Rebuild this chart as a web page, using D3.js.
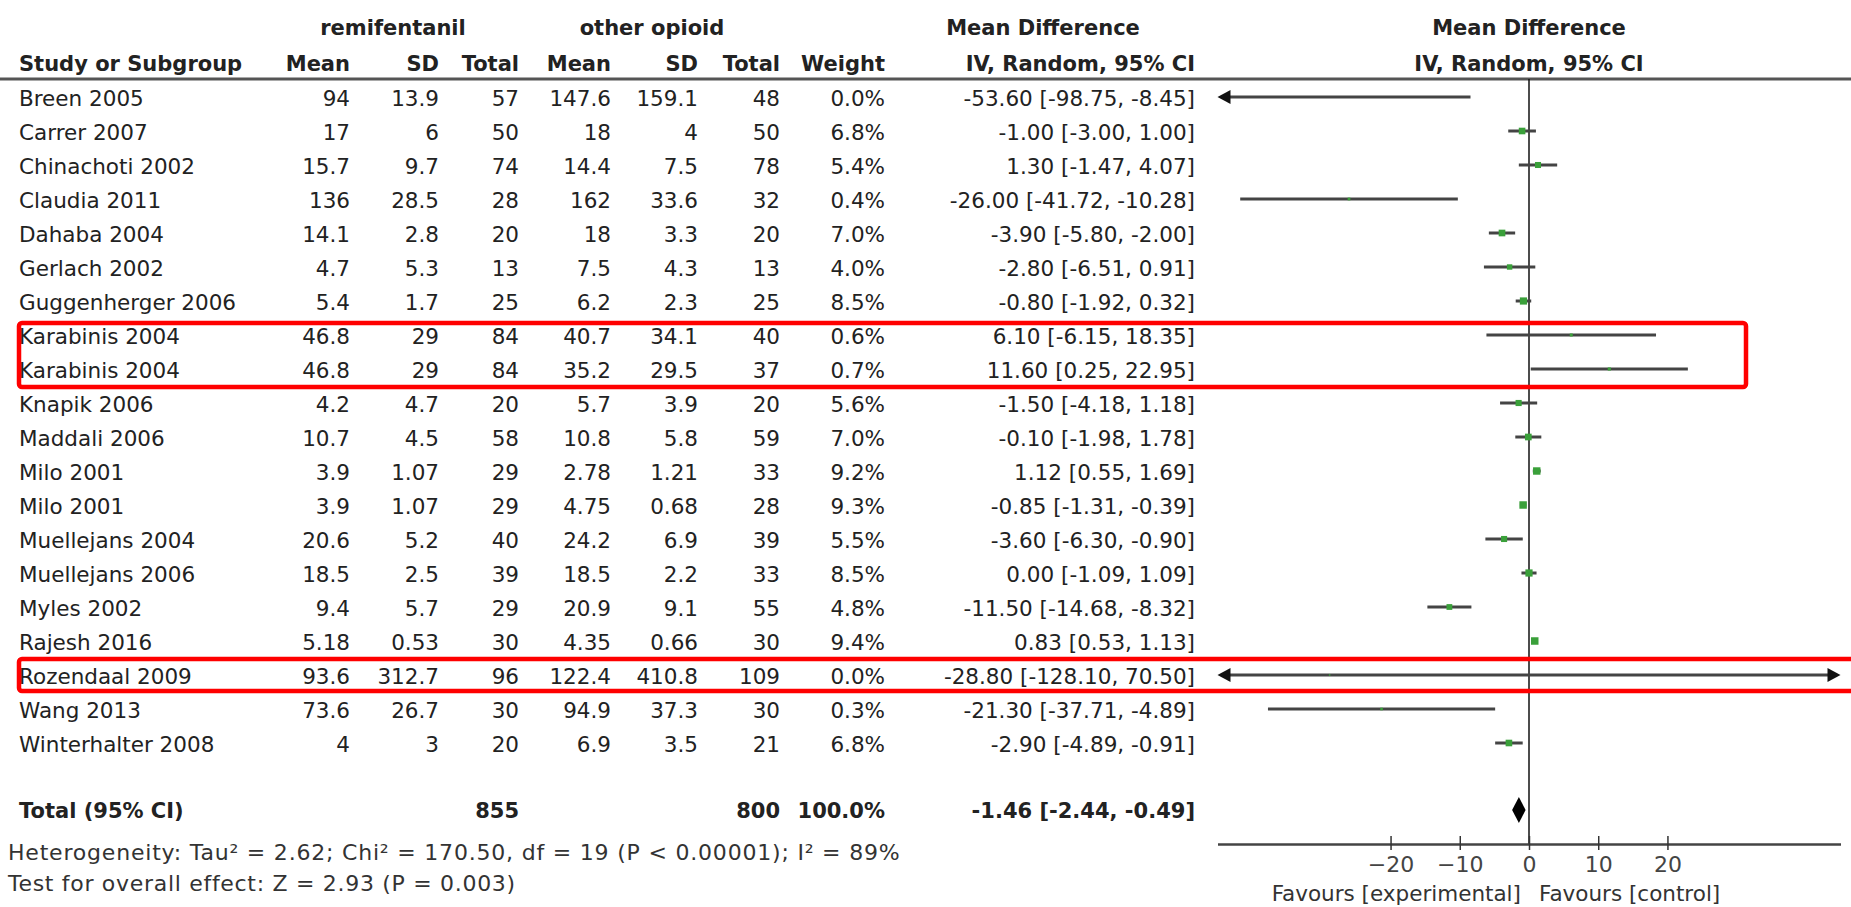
<!DOCTYPE html>
<html>
<head>
<meta charset="utf-8">
<script src="https://cdn.jsdelivr.net/npm/d3@7"></script>
<style>
  body { margin: 0; background: #fff; }
  svg { display: block; font-family: "DejaVu Sans", sans-serif; }
</style>
</head>
<body>
<div id="forest"></div>
<script>

// study rows
const studies = ["Breen 2005", "Carrer 2007", "Chinachoti 2002", "Claudia 2011", "Dahaba 2004",
  "Gerlach 2002", "Guggenherger 2006", "Karabinis 2004", "Karabinis 2004", "Knapik 2006",
  "Maddali 2006", "Milo 2001", "Milo 2001", "Muellejans 2004", "Muellejans 2006",
  "Myles 2002", "Rajesh 2016", "Rozendaal 2009", "Wang 2013", "Winterhalter 2008"];
const remiMean  = [94, 17, 15.7, 136, 14.1, 4.7, 5.4, 46.8, 46.8, 4.2, 10.7, 3.9, 3.9, 20.6, 18.5, 9.4, 5.18, 93.6, 73.6, 4];
const remiSD    = [13.9, 6, 9.7, 28.5, 2.8, 5.3, 1.7, 29, 29, 4.7, 4.5, 1.07, 1.07, 5.2, 2.5, 5.7, 0.53, 312.7, 26.7, 3];
const remiN     = [57, 50, 74, 28, 20, 13, 25, 84, 84, 20, 58, 29, 29, 40, 39, 29, 30, 96, 30, 20];
const otherMean = [147.6, 18, 14.4, 162, 18, 7.5, 6.2, 40.7, 35.2, 5.7, 10.8, 2.78, 4.75, 24.2, 18.5, 20.9, 4.35, 122.4, 94.9, 6.9];
const otherSD   = [159.1, 4, 7.5, 33.6, 3.3, 4.3, 2.3, 34.1, 29.5, 3.9, 5.8, 1.21, 0.68, 6.9, 2.2, 9.1, 0.66, 410.8, 37.3, 3.5];
const otherN    = [48, 50, 78, 32, 20, 13, 25, 40, 37, 20, 59, 33, 28, 39, 33, 55, 30, 109, 30, 21];
const weight    = [0.0, 6.8, 5.4, 0.4, 7.0, 4.0, 8.5, 0.6, 0.7, 5.6, 7.0, 9.2, 9.3, 5.5, 8.5, 4.8, 9.4, 0.0, 0.3, 6.8];
const md        = [-53.60, -1.00, 1.30, -26.00, -3.90, -2.80, -0.80, 6.10, 11.60, -1.50, -0.10, 1.12, -0.85, -3.60, 0.00, -11.50, 0.83, -28.80, -21.30, -2.90];
const ciLow     = [-98.75, -3.00, -1.47, -41.72, -5.80, -6.51, -1.92, -6.15, 0.25, -4.18, -1.98, 0.55, -1.31, -6.30, -1.09, -14.68, 0.53, -128.10, -37.71, -4.89];
const ciHigh    = [-8.45, 1.00, 4.07, -10.28, -2.00, 0.91, 0.32, 18.35, 22.95, 1.18, 1.78, 1.69, -0.39, -0.90, 1.09, -8.32, 1.13, 70.50, -4.89, -0.91];

// pooled result
const total = {label: "Total (95% CI)", remiN: 855, otherN: 800, weight: 100.0, md: -1.46, lo: -2.44, hi: -0.49};
const heterogeneity = "Heterogeneity: Tau² = 2.62; Chi² = 170.50, df = 19 (P < 0.00001); I² = 89%";
const overallTest = "Test for overall effect: Z = 2.93 (P = 0.003)";

const axisTicks = [-20, -10, 0, 10, 20];
const favours = ["Favours [experimental]", "Favours [control]"];

// rows outlined in red (first row index, last row index)
const highlights = [[7, 8], [17, 17]];

var width = 1851;
var height = 907;

var svg = d3.select("#forest")
  .append("svg")
    .attr("width", width)
    .attr("height", height)

const loc = d3.formatLocale({decimal: ".", thousands: ",", grouping: [3], currency: ["", ""], minus: "-"});
const f1 = loc.format(".1f");
const f2 = loc.format(".2f");
const ciText = (m, lo, hi) => `${f2(m)} [${f2(lo)}, ${f2(hi)}]`;

// scales
var x = d3.scaleLinear().domain([-45, 45]).range([1217.5, 1840.5]);
var y = d3.scalePoint().domain(d3.range(studies.length)).range([97, 743]);
var yTotal = 810;
var size = d3.scaleSqrt().domain([0, d3.max(weight)]).range([1.5, 7.5]);

// table columns: right edge of each column
var cols = [
  {head: "Study or Subgroup", x: 19, anchor: "start", v: i => studies[i]},
  {head: "Mean", x: 350, anchor: "end", v: i => remiMean[i]},
  {head: "SD", x: 439, anchor: "end", v: i => remiSD[i]},
  {head: "Total", x: 519, anchor: "end", v: i => remiN[i]},
  {head: "Mean", x: 611, anchor: "end", v: i => otherMean[i]},
  {head: "SD", x: 698, anchor: "end", v: i => otherSD[i]},
  {head: "Total", x: 780, anchor: "end", v: i => otherN[i]},
  {head: "Weight", x: 885, anchor: "end", v: i => f1(weight[i]) + "%"},
  {head: "IV, Random, 95% CI", x: 1195, anchor: "end", v: i => ciText(md[i], ciLow[i], ciHigh[i])}
];

// header
var head = svg.append("g").attr("fill", "#222").attr("font-weight", "bold").attr("font-size", 21);
[["remifentanil", 393], ["other opioid", 652], ["Mean Difference", 1043], ["Mean Difference", x(0)]]
  .forEach(([t, cx]) => head.append("text").attr("x", cx).attr("y", 27).attr("dy", "0.36em")
    .attr("text-anchor", "middle").text(t));
cols.forEach(c => head.append("text").attr("x", c.x).attr("y", 63).attr("dy", "0.36em")
  .attr("text-anchor", c.anchor).text(c.head));
head.append("text").attr("x", x(0)).attr("y", 63).attr("dy", "0.36em")
  .attr("text-anchor", "middle").text("IV, Random, 95% CI");

svg.append("line")
  .attr("x1", 0).attr("x2", width).attr("y1", 79).attr("y2", 79)
  .attr("stroke", "#555").attr("stroke-width", 3);

// table body
var body = svg.append("g").attr("fill", "#222").attr("font-size", 21.5);
cols.forEach(c => {
  body.selectAll(null)
    .data(d3.range(studies.length))
    .join("text")
      .attr("x", c.x)
      .attr("y", i => y(i) + 1.5)
      .attr("dy", "0.36em")
      .attr("text-anchor", c.anchor)
      .text(i => c.v(i));
});

// total row
var tot = svg.append("g").attr("fill", "#222").attr("font-size", 21).attr("font-weight", "bold");
[[total.label, 19, "start"], [total.remiN, 519, "end"], [total.otherN, 780, "end"],
 [f1(total.weight) + "%", 885, "end"], [ciText(total.md, total.lo, total.hi), 1195, "end"]]
  .forEach(([t, tx, a]) => tot.append("text").attr("x", tx).attr("y", yTotal).attr("dy", "0.36em")
    .attr("text-anchor", a).text(t));

svg.append("text").attr("x", 8).attr("y", 852).attr("dy", "0.36em")
  .attr("font-size", 22).attr("letter-spacing", 0.8).attr("fill", "#333").text(heterogeneity);
svg.append("text").attr("x", 8).attr("y", 883).attr("dy", "0.36em")
  .attr("font-size", 22).attr("letter-spacing", 0.7).attr("fill", "#333").text(overallTest);

// plot: zero line
svg.append("line")
  .attr("x1", x(0)).attr("x2", x(0)).attr("y1", 79).attr("y2", 844)
  .attr("stroke", "#111").attr("stroke-width", 1.5);

// CI lines, clipped to the axis with arrows
const [xMin, xMax] = x.domain();
var ci = svg.append("g");
d3.range(studies.length).forEach(i => {
  let lo = Math.max(ciLow[i], xMin), hi = Math.min(ciHigh[i], xMax);
  let yy = y(i);
  ci.append("line")
    .attr("x1", x(lo) + (ciLow[i] < xMin ? 6 : 0)).attr("x2", x(hi) - (ciHigh[i] > xMax ? 6 : 0))
    .attr("y1", yy).attr("y2", yy)
    .attr("stroke", "#444").attr("stroke-width", 3);
  if (ciLow[i] < xMin)
    ci.append("path").attr("fill", "#111")
      .attr("d", `M${x(xMin)},${yy}l13,-7v14z`);
  if (ciHigh[i] > xMax)
    ci.append("path").attr("fill", "#111")
      .attr("d", `M${x(xMax)},${yy}l-13,-7v14z`);
  if (md[i] >= xMin && md[i] <= xMax) {
    let s = size(weight[i]);
    ci.append("rect")
      .attr("x", x(md[i]) - s / 2).attr("y", yy - s / 2)
      .attr("width", s).attr("height", s)
      .attr("fill", "#3aa03a");
  }
});

// pooled diamond
svg.append("path")
  .attr("fill", "#000")
  .attr("d", `M${x(total.lo)},${yTotal}L${x(total.md)},${yTotal - 13}L${x(total.hi)},${yTotal}L${x(total.md)},${yTotal + 13}Z`);

// axis
var ax = svg.append("g")
  .attr("transform", `translate(0,844)`)
  .call(d3.axisBottom(x).tickValues(axisTicks).tickSize(6).tickSizeOuter(0));
ax.select(".domain").attr("stroke", "#444").attr("stroke-width", 2.5);
ax.selectAll(".tick line").attr("y1", -8).attr("y2", 6).attr("stroke", "#333").attr("stroke-width", 1.5);
ax.selectAll(".tick text")
  .attr("y", 12).attr("font-size", 22).attr("fill", "#444")
  .attr("font-family", "DejaVu Sans, sans-serif");

svg.append("text").attr("x", x(0) - 8).attr("y", 893).attr("dy", "0.36em")
  .attr("text-anchor", "end").attr("font-size", 21.5).attr("fill", "#333").text(favours[0]);
svg.append("text").attr("x", x(0) + 10).attr("y", 893).attr("dy", "0.36em")
  .attr("text-anchor", "start").attr("font-size", 21.5).attr("fill", "#333").text(favours[1]);

// red highlight boxes
svg.append("g").selectAll("rect")
  .data(highlights)
  .join("rect")
    .attr("x", 19)
    .attr("y", d => y(d[0]) - (d[0] === d[1] ? 16 : 12))
    .attr("width", d => d[0] === d[1] ? width : 1727)
    .attr("height", d => y(d[1]) - y(d[0]) + (d[0] === d[1] ? 32 : 30))
    .attr("rx", 3)
    .attr("fill", "none")
    .attr("stroke", "#ff0000")
    .attr("stroke-width", 4.5);

</script>
</body>
</html>
